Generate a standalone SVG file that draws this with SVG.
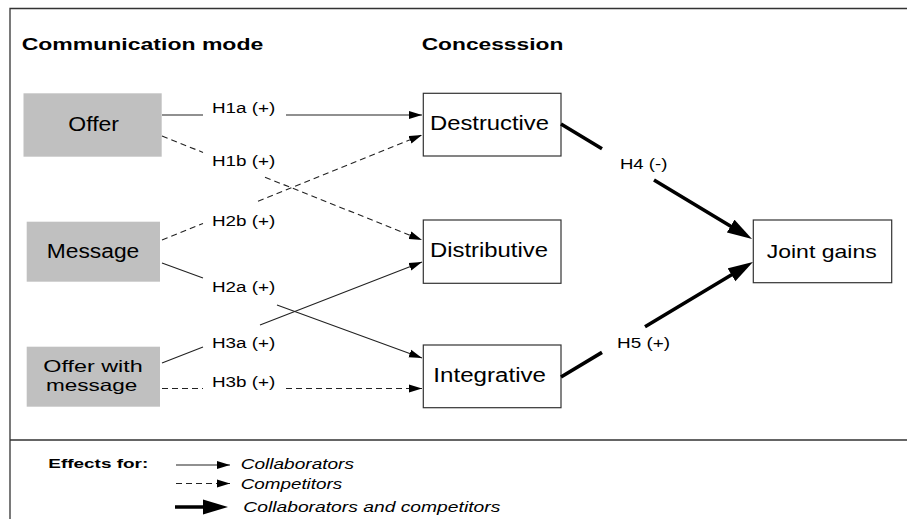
<svg xmlns="http://www.w3.org/2000/svg" width="907" height="519" viewBox="0 0 907 519">
<defs>
<style>
.t{font-family:"Liberation Sans",Arial,Helvetica,sans-serif;fill:#000}
.b{font-weight:bold}
.i{font-style:italic}
.gray{fill:#c0c0c0;stroke:none}
.white{fill:#fff;stroke:#333;stroke-width:1.2}
.frame{fill:none;stroke:#333;stroke-width:1.3}
.thin{fill:none;stroke:#222;stroke-width:1.1;marker-end:url(#ah)}
.dash{stroke-dasharray:6 4}
.thick{fill:none;stroke:#000;stroke-width:3.6;marker-end:url(#ahT)}
</style>
<marker id="ah" markerUnits="userSpaceOnUse" markerWidth="14" markerHeight="9" refX="13" refY="4.5" orient="auto"><path d="M0,0.5 L13,4.5 L0,8.5 z" fill="#000"/></marker>
<marker id="ahT" markerUnits="userSpaceOnUse" markerWidth="26" markerHeight="16" refX="5" refY="8" orient="auto"><path d="M0,0.5 L25,8 L0,15.5 z" fill="#000"/></marker>
</defs>
<rect width="907" height="519" fill="#fff"/>
<path class="frame" d="M10,519 V8.5 H907 M10,440 H907"/>
<text class="t b" x="21.7" y="50" font-size="17" textLength="241.6" lengthAdjust="spacingAndGlyphs">Communication mode</text>
<text class="t b" x="421.7" y="50" font-size="17" textLength="141.6" lengthAdjust="spacingAndGlyphs">Concesssion</text>

<g id="offer"><rect class="gray" x="23.5" y="93.3" width="138.2" height="63.4"/>
<text class="t" x="68.3" y="131" font-size="20" textLength="50.7" lengthAdjust="spacingAndGlyphs">Offer</text></g>
<g id="message"><rect class="gray" x="26.7" y="221.7" width="133.3" height="60"/>
<text class="t" x="46.7" y="258" font-size="19.5" textLength="92.6" lengthAdjust="spacingAndGlyphs">Message</text></g>
<g id="offer-with-message"><rect class="gray" x="26.7" y="346.7" width="133.3" height="60"/>
<text class="t" x="43.3" y="372.3" font-size="16.5" textLength="99.4" lengthAdjust="spacingAndGlyphs">Offer with</text>
<text class="t" x="46" y="391" font-size="16.5" textLength="91.3" lengthAdjust="spacingAndGlyphs">message</text></g>

<g id="destructive"><rect class="white" x="423.3" y="93.3" width="137.7" height="62.7"/>
<text class="t" x="430" y="130.2" font-size="19.5" textLength="119" lengthAdjust="spacingAndGlyphs">Destructive</text></g>
<g id="distributive"><rect class="white" x="423.3" y="220" width="137.7" height="63.3"/>
<text class="t" x="430" y="257.3" font-size="19.5" textLength="118" lengthAdjust="spacingAndGlyphs">Distributive</text></g>
<g id="integrative"><rect class="white" x="423.3" y="345" width="137.7" height="62.7"/>
<text class="t" x="433.3" y="381.7" font-size="19.5" textLength="112.7" lengthAdjust="spacingAndGlyphs">Integrative</text></g>
<g id="joint-gains"><rect class="white" x="753.3" y="220" width="138.4" height="62.7"/>
<text class="t" x="766.7" y="258.3" font-size="19" textLength="110" lengthAdjust="spacingAndGlyphs">Joint gains</text></g>

<g id="connectors">
<path class="thin" d="M162,115 H203 M286,115 H422"/>
<path class="thin dash" d="M162,136 L203,152.4 M265,177.2 L422,240"/>
<path class="thin dash" d="M162,240 L203,223.4 M258,201.2 L422,135"/>
<path class="thin" d="M162,263 L203,278 M277,305 L422,358"/>
<path class="thin" d="M162,363 L203,347.1 M260,325 L422,262"/>
<path class="thin dash" d="M162,388.5 H203 M286,388.5 H422"/>
<path class="thick" d="M561,124 L602,148.7 M654,180 L734.9,228.7"/>
<path class="thick" d="M561,377 L602,352.4 M645,326.7 L735.8,272.3"/>
<g font-size="15.5">
<text class="t" x="212" y="113.3" textLength="63.3" lengthAdjust="spacingAndGlyphs">H1a (+)</text>
<text class="t" x="212" y="165.5" textLength="63.3" lengthAdjust="spacingAndGlyphs">H1b (+)</text>
<text class="t" x="212" y="225.5" textLength="63.3" lengthAdjust="spacingAndGlyphs">H2b (+)</text>
<text class="t" x="212" y="292.3" textLength="63.3" lengthAdjust="spacingAndGlyphs">H2a (+)</text>
<text class="t" x="212" y="348.3" textLength="63.3" lengthAdjust="spacingAndGlyphs">H3a (+)</text>
<text class="t" x="212" y="386.7" textLength="63.3" lengthAdjust="spacingAndGlyphs">H3b (+)</text>
<text class="t" x="620" y="169.3" textLength="47.3" lengthAdjust="spacingAndGlyphs">H4 (-)</text>
<text class="t" x="617" y="348.3" textLength="53" lengthAdjust="spacingAndGlyphs">H5 (+)</text>
</g>
</g>

<g id="legend">
<text class="t b" x="48.3" y="468.3" font-size="13" textLength="100" lengthAdjust="spacingAndGlyphs">Effects for:</text>
<path class="thin" d="M176,465 H230"/>
<path class="thin dash" d="M176,483.5 H230" stroke-dasharray="5 3"/>
<path class="thick" d="M175,507 H208"/>
<text class="t i" x="240.7" y="469.3" font-size="14" textLength="113.3" lengthAdjust="spacingAndGlyphs">Collaborators</text>
<text class="t i" x="240.7" y="489" font-size="14" textLength="101.5" lengthAdjust="spacingAndGlyphs">Competitors</text>
<text class="t i" x="243.3" y="511.7" font-size="14" textLength="257" lengthAdjust="spacingAndGlyphs">Collaborators and competitors</text>
</g>
</svg>
